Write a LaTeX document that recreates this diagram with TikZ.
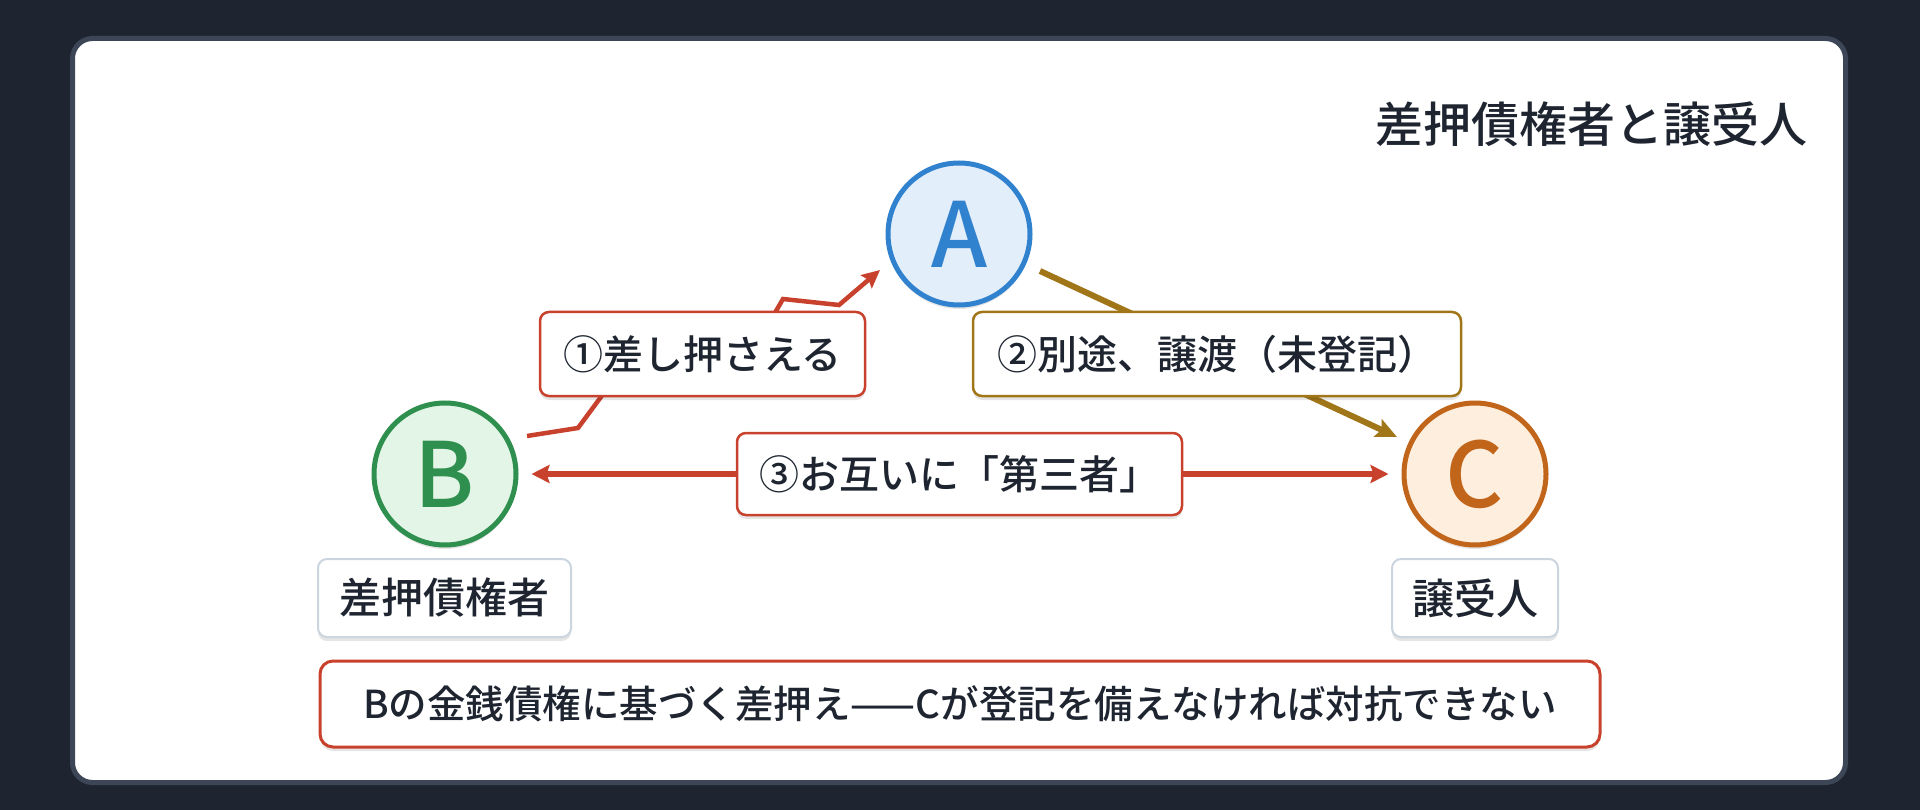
\documentclass[tikz,border=0pt]{standalone}
\usepackage{fontspec}
\setmainfont{Noto Sans CJK JP Medium}
\newfontfamily\jpbold{Noto Sans CJK JP Bold}
\usetikzlibrary{arrows.meta,shadows}
\definecolor{bgdark}{HTML}{1E2530}
\definecolor{cardborder}{HTML}{3C4656}
\definecolor{txt}{HTML}{1E2530}
\definecolor{redc}{HTML}{C8412D}
\definecolor{olive}{HTML}{A07618}
\definecolor{ablue}{HTML}{3182CE}
\definecolor{afill}{HTML}{E3EEFB}
\definecolor{bgreen}{HTML}{2F8F4F}
\definecolor{bfill}{HTML}{E3F5E7}
\definecolor{corange}{HTML}{C0651A}
\definecolor{cfill}{HTML}{FEEEDE}
\definecolor{lblgray}{HTML}{CBD5E0}
\tikzset{
  softshadow/.style={drop shadow={shadow xshift=0pt,shadow yshift=-4pt,opacity=0.10,fill=black}},
  party/.style={circle,line width=5pt,inner sep=0pt,minimum size=142pt,softshadow,
    font=\fontsize{90}{90}\selectfont},
  namebox/.style={rectangle,rounded corners=9pt,draw=lblgray,line width=2pt,fill=white,
    inner sep=0pt,minimum height=78pt,text=txt,softshadow,font=\fontsize{42}{48}\selectfont},
  edgebox/.style={rectangle,rounded corners=9pt,line width=2.5pt,fill=white,
    inner sep=0pt,text=txt,softshadow,font=\fontsize{40}{48}\selectfont},
  redline/.style={draw=redc,line width=4.5pt},
  oliveline/.style={draw=olive,line width=6pt},
  headtip/.style={-{Stealth[length=18pt,width=17pt,inset=3pt]}}
}
\begin{document}
\begin{tikzpicture}[x=1pt,y=-1pt]
\useasboundingbox (0,0) rectangle (1920,810);
\fill[bgdark] (0,0) rectangle (1920,810);
\draw[fill=white,draw=cardborder,line width=5pt,rounded corners=20pt] (72.5,38.5) rectangle (1845.5,782.5);

\node[anchor=east,text=txt,inner sep=0pt,font=\fontsize{48}{56}\selectfont] (title) at (1808,124) {差押債権者と譲受人};

\node[party,draw=ablue,fill=afill,text=ablue] (A) at (959,234) {A};
\node[party,draw=bgreen,fill=bfill,text=bgreen] (B) at (445,474) {B};
\node[party,draw=corange,fill=cfill,text=corange] (C) at (1475,474) {C};

% connector 1: B -> A (zigzag)
\coordinate (b1) at ([shift={(82,-38)}]B.center);
\coordinate (a1) at ([shift={(-79,36)}]A.center);
\draw[redline,headtip,line join=miter] (b1) -- (578,428) -- (612,382) -- (765,330) -- (783,299) -- (839,305) -- (a1);

% connector 2: A -> C
\coordinate (a2) at ([shift={(81,37)}]A.center);
\coordinate (c2) at ([shift={(-78,-37)}]C.center);
\draw[oliveline,-{Stealth[length=21pt,width=19pt,inset=4pt]}] (a2) -- (c2);

% connector 3: B <-> C
\draw[draw=redc,line width=6.5pt,{Stealth[length=18pt,width=18pt,inset=3pt]}-{Stealth[length=18pt,width=18pt,inset=3pt]}]
  ([xshift=13pt]B.east) -- ([xshift=-13pt]C.west);

% labels on connectors
\node[edgebox,draw=redc,minimum width=325pt,minimum height=84pt] (l1) at (702.5,354) {①差し押さえる};
\node[edgebox,draw=olive,minimum width=488pt,minimum height=84pt] (l2) at (1217,354) {②別途、譲渡（未登記）};
\node[edgebox,draw=redc,minimum width=445pt,minimum height=82pt] (l3) at (959.5,474) {③お互いに「第三者」};

% name boxes
\node[namebox,minimum width=253pt] (nb) at (444.5,598) {差押債権者};
\node[namebox,minimum width=166pt] (nc) at (1475,598) {譲受人};

% bottom note
\node[rectangle,rounded corners=13pt,draw=redc,line width=3pt,fill=white,inner sep=0pt,
  minimum width=1280pt,minimum height=86pt,text=txt,softshadow,font=\fontsize{38.5}{46}\selectfont] (note) at (960,704)
  {Bの金銭債権に基づく差押え——Cが登記を備えなければ対抗できない};
\end{tikzpicture}
\end{document}
